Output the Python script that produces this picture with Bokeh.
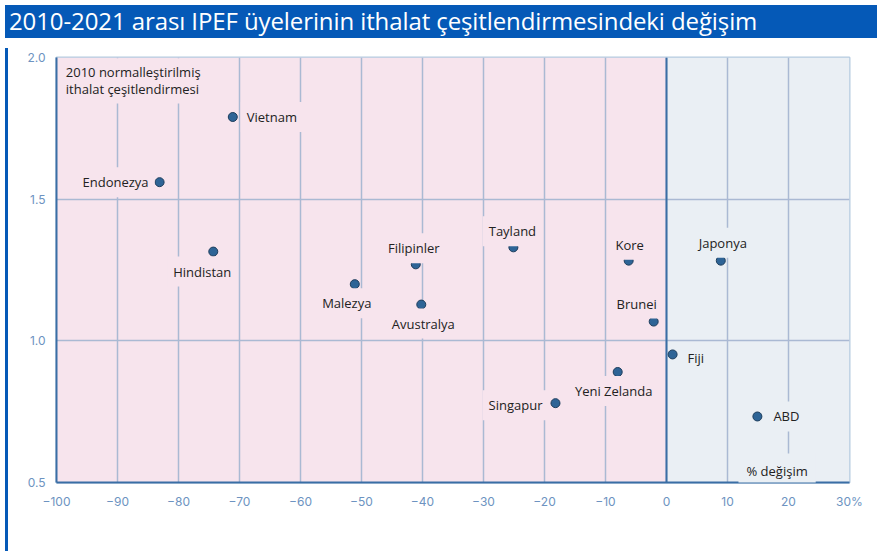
from bokeh.plotting import figure
from bokeh.models import Div, Label, Span, FixedTicker, PrintfTickFormatter, ColumnDataSource
from bokeh.layouts import column, row
from bokeh.embed import file_html
from bokeh.resources import INLINE

# ---------------- data ----------------
title_text = "2010-2021 arası IPEF üyelerinin ithalat çeşitlendirmesindeki değişim"
y_axis_note = "2010 normalleştirilmiş\nithalat çeşitlendirmesi"
x_axis_note = "% değişim"

countries = ["Vietnam", "Endonezya", "Hindistan", "Malezya", "Filipinler", "Avustralya",
             "Tayland", "Singapur", "Yeni Zelanda", "Brunei", "Kore", "Fiji", "Japonya", "ABD"]
pct_change = [-71.1, -83.1, -74.3, -51.1, -41.1, -40.2, -25.1, -18.2, -8.0, -2.1, -6.2, 1.0, 8.9, 14.9]
diversification = [1.79, 1.56, 1.315, 1.20, 1.27, 1.128, 1.33, 0.78, 0.89, 1.068, 1.283, 0.952, 1.283, 0.733]

x_ticks = [-100, -90, -80, -70, -60, -50, -40, -30, -20, -10, 0, 10, 20, 30]
x_tick_labels = ["−100", "−90", "−80", "−70", "−60", "−50", "−40", "−30", "−20", "−10", "0", "10", "20", "30%"]
y_ticks = [0.5, 1.0, 1.5, 2.0]

region_left = [-100, 0]
region_right = [0, 30]

# ---------------- styles ----------------
BLUE_BAR = "#0559b7"
PINK = "#f7e4ed"
LIGHT = "#eaeff4"
GRID = "#aab9d3"
AXIS = "#3a6ea5"
TICK_TXT = "#6d93c1"
label_font = "Open Sans"

# label placement (screen px offsets, up positive), alignment
label_pos = {
    "Vietnam": (8, 0, "left"),
    "Endonezya": (-5, 0, "right"),
    "Hindistan": (-11, -20, "center"),
    "Malezya": (-8, -19, "center"),
    "Filipinler": (-2, 16, "center"),
    "Avustralya": (2, -19, "center"),
    "Tayland": (-1, 16, "center"),
    "Singapur": (-7, -2, "right"),
    "Yeni Zelanda": (-4, -19, "center"),
    "Brunei": (-17, 18, "center"),
    "Kore": (1, 16, "center"),
    "Fiji": (9, -4, "left"),
    "Japonya": (2, 18, "center"),
    "ABD": (10, 0, "left"),
}

p = figure(width=869, height=510, x_range=(-100, 30), y_range=(0.5, 2.0),
           output_backend="svg", toolbar_location=None,
           min_border_left=43, min_border_right=33, min_border_top=14, min_border_bottom=71)

p.background_fill_color = "white"
p.border_fill_color = "white"
p.outline_line_color = "#b5cbe0"
p.outline_line_width = 2

# regions
p.quad(left=[region_left[0]], right=[region_left[1]], bottom=[y_ticks[0]], top=[y_ticks[-1]],
       fill_color=PINK, line_color=None, level="image")
p.quad(left=[region_right[0]], right=[region_right[1]], bottom=[y_ticks[0]], top=[y_ticks[-1]],
       fill_color=LIGHT, line_color=None, level="image")

# axes
p.xaxis.ticker = FixedTicker(ticks=x_ticks)
p.xaxis.major_label_overrides = {t: l for t, l in zip(x_ticks, x_tick_labels)}
p.yaxis.ticker = FixedTicker(ticks=y_ticks)
p.yaxis.formatter = PrintfTickFormatter(format="%.1f")
for ax in (p.xaxis, p.yaxis):
    ax.axis_line_color = AXIS
    ax.axis_line_width = 2
    ax.major_tick_line_color = None
    ax.minor_tick_line_color = None
    ax.major_label_text_color = TICK_TXT
    ax.major_label_text_font = "Inter"
    ax.major_label_text_font_size = "12px"
    ax.major_label_standoff = 5

p.xgrid.ticker = FixedTicker(ticks=x_ticks)
p.ygrid.ticker = FixedTicker(ticks=y_ticks)
for g in (p.xgrid, p.ygrid):
    g.grid_line_color = GRID
    g.grid_line_width = 1.5

p.add_layout(Span(location=0, dimension="height", line_color=AXIS, line_width=2, level="underlay"))

src = ColumnDataSource(dict(x=pct_change, y=diversification, name=countries))
p.scatter("x", "y", source=src, size=9, fill_color="#2e6496", line_color="#1d3d5c", line_width=1)

for name, xv, yv in zip(countries, pct_change, diversification):
    dx, dy, al = label_pos[name]
    p.add_layout(Label(x=xv, y=yv, x_offset=dx, y_offset=dy, text=name,
                       text_align=al, text_baseline="middle",
                       text_font=label_font, text_font_size="13px", text_color="#222222",
                       background_fill_color=PINK if xv < 0 else LIGHT, padding=6))

p.add_layout(Label(x=-99.3, y=1.997, text=y_axis_note, text_align="left", text_baseline="top",
                   text_font=label_font, text_font_size="13px", text_color="#222222",
                   text_line_height=0.95, background_fill_color=PINK, padding=5))
p.add_layout(Label(x=11.8, y=0.542, text=x_axis_note, text_align="left", text_baseline="middle",
                   text_font=label_font, text_font_size="13px", text_color="#222222",
                   background_fill_color=LIGHT, padding=8))

title_div = Div(text=title_text, width=872, height=33,
                styles={"background-color": BLUE_BAR, "color": "white",
                        "font-family": "'Open Sans', sans-serif",
                        "font-size": "24px", "letter-spacing": "-0.1px",
                        "line-height": "32px", "padding-left": "4px",
                        "box-sizing": "border-box", "white-space": "nowrap"})
side_div = Div(text="", width=3, height=510, styles={"background-color": BLUE_BAR})

layout = column(title_div, row(side_div, p, spacing=0), spacing=0)

open("out.html", "w").write(file_html(layout, INLINE))
